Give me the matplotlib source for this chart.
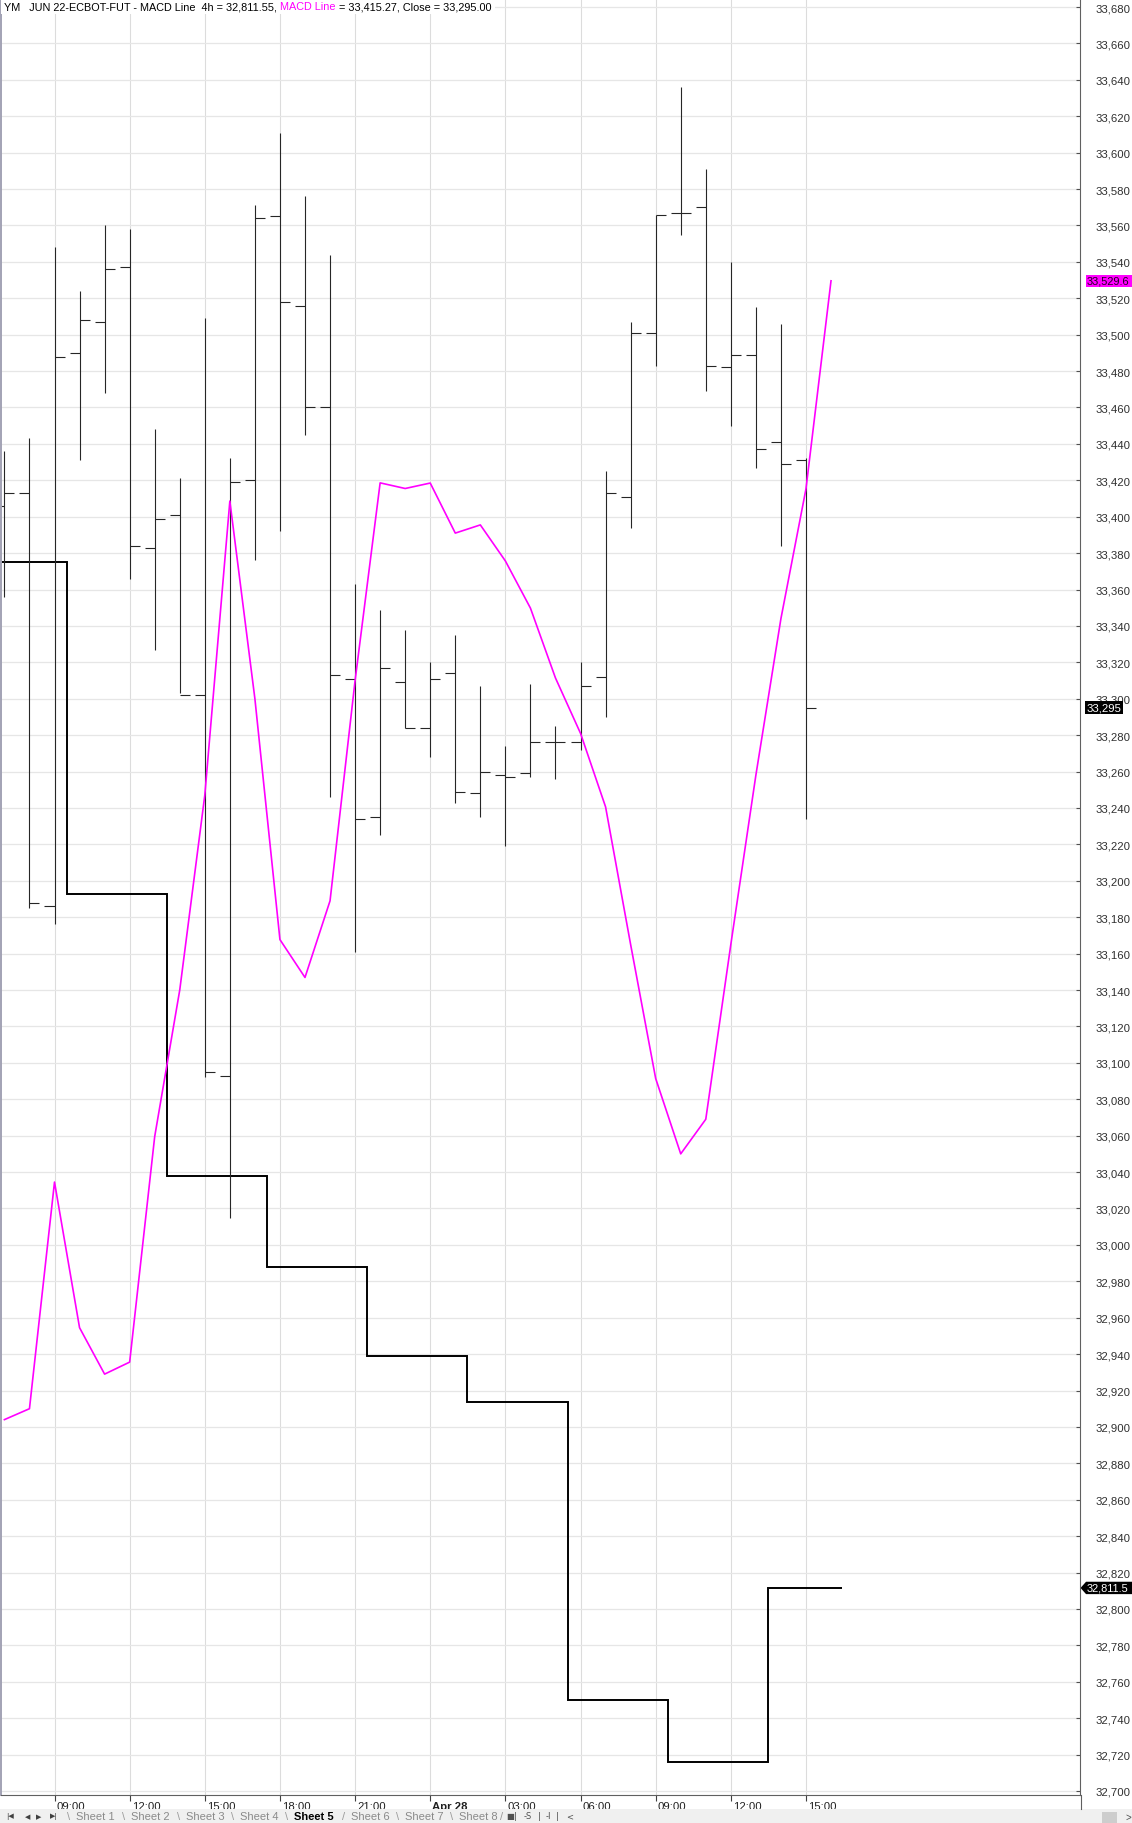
import matplotlib
matplotlib.use("Agg")
import matplotlib.pyplot as plt
import matplotlib.patches as mpatches
from matplotlib.transforms import ScaledTranslation
import numpy as np

plt.rcParams['font.family'] = ['Liberation Sans', 'DejaVu Sans']

# hourly OHLC bars, hour 0 = 09:00 on Apr 27
hours = np.arange(-2, 31)
opens = [33406, 33413, 33186, 33490, 33507, 33537, 33383, 33401, 33302, 33093,
         33420, 33565, 33516, 33460, 33311, 33235, 33309, 33284, 33314, 33248,
         33258, 33259, 33276, 33276, 33312, 33411, 33501, 33567, 33570, 33482,
         33489, 33441, 33431]
highs = [33436, 33443, 33548, 33524, 33560, 33558, 33448, 33421, 33509, 33432,
         33571, 33611, 33576, 33544, 33363, 33349, 33338, 33320, 33335, 33307,
         33274, 33308, 33285, 33320, 33425, 33507, 33566, 33636, 33591, 33540,
         33515, 33506, 33432]
lows = [33356, 33185, 33176, 33431, 33468, 33366, 33327, 33303, 33092, 33015,
        33376, 33392, 33445, 33246, 33161, 33225, 33284, 33268, 33243, 33235,
        33219, 33257, 33256, 33272, 33290, 33394, 33483, 33555, 33469, 33450,
        33427, 33384, 33234]
closes = [33413, 33188, 33488, 33508, 33536, 33384, 33399, 33302, 33095, 33419,
          33564, 33518, 33460, 33313, 33234, 33317, 33284, 33311, 33249, 33260,
          33257, 33276, 33276, 33307, 33413, 33501, 33566, 33567, 33483, 33489,
          33437, 33429, 33295.00]

# MACD line (one point per hour)
macd_hours = np.arange(-2, 32)
macd = [32904, 32910, 33034.5, 32954.5, 32929, 32935.6, 33059.5, 33140, 33247,
        33408.6, 33300, 33167.7, 33146.9, 33189, 33310, 33418.6, 33415.5,
        33418.5, 33391, 33395.5, 33375.7, 33349.8, 33311.4, 33281, 33240.6,
        33165, 33091.4, 33050, 33069, 33165, 33258, 33344, 33415.27, 33529.6]

# 4h series drawn as steps
step_edges = [-3.52, 0.48, 4.48, 8.48, 12.48, 16.48, 20.48, 24.48, 28.48, 31.45]
step_vals = [33375, 33193, 33038, 32988, 32939, 32913.5, 32750, 32716, 32811.55]

tick_hours = [0, 3, 6, 9, 12, 15, 18, 21, 24, 27, 30]
tick_labels = ["09:00", "12:00", "15:00", "18:00", "21:00", "Apr 28",
               "03:00", "06:00", "09:00", "12:00", "15:00"]
price_ticks = np.arange(32700, 33681, 20)

W, H = 1132, 1824
fig = plt.figure(figsize=(W / 100, H / 100), dpi=100)
fig.patch.set_facecolor("white")
ax = fig.add_axes([1 / W, 28 / H, 1079 / W, 1796 / H])

ax.set_xlim(-2.136, 40.94)
ax.set_ylim(32697.8, 33684.4)

# grid
ax.set_yticks(price_ticks)
ax.set_yticklabels([f"{v:,}" for v in price_ticks])
ax.set_xticks(tick_hours)
ax.set_xticklabels(tick_labels)
ax.grid(axis="y", color="#e6e6e6", lw=0.9)
ax.grid(axis="x", color="#dcdcdc", lw=0.8)
ax.set_axisbelow(True)

# OHLC bars
bar_c = "#262626"
ax.vlines(hours, lows, highs, color=bar_c, lw=0.8)
ax.hlines(opens, hours - 0.4, hours, color=bar_c, lw=0.8)
ax.hlines(closes, hours, hours + 0.4, color=bar_c, lw=0.8)

# 4h steps and MACD line
ax.stairs(step_vals, step_edges, baseline=None, color="black", lw=1.4)
ax.plot(macd_hours, macd, color="#ff00ff", lw=1.2)

# axes styling
ax.yaxis.tick_right()
ax.tick_params(axis="y", direction="in", length=3, width=0.8, color="#505050",
               pad=11, labelsize=8.2, labelcolor="#303030")
ax.tick_params(axis="x", direction="out", length=4, width=0.8, color="#404040",
               pad=0.5, labelsize=8.2, labelcolor="#202020")
for lbl in ax.get_xticklabels():
    lbl.set_horizontalalignment("left")
    lbl.set_transform(lbl.get_transform() + ScaledTranslation(2 / 100, 0, fig.dpi_scale_trans))
    if lbl.get_text() == "Apr 28":
        lbl.set_fontweight("bold")
ax.spines["top"].set_visible(False)
ax.spines["left"].set_color("#a2a2b4")
ax.spines["left"].set_linewidth(1.4)
ax.spines["right"].set_color("#606060")
ax.spines["right"].set_linewidth(0.8)
ax.spines["bottom"].set_color("#606060")
ax.spines["bottom"].set_linewidth(0.8)

# value markers on the price axis
ytr = ax.get_yaxis_transform()
hb = 3.4  # half height of the marker boxes, in price units
ax.add_patch(mpatches.Rectangle((1.0056, macd[-1] - hb), 0.05, 2 * hb, transform=ytr,
                                fc="#ff00ff", ec="none", clip_on=False))
ax.text(1.0062, macd[-1], f"{macd[-1]:,.1f}", transform=ytr, va="center", ha="left",
        fontsize=7.9, color="#200020", clip_on=False)
ax.text(1.0062, closes[-1], f"{closes[-1]:,.0f}", transform=ytr, va="center", ha="left",
        fontsize=8.2, color="white", clip_on=False,
        bbox=dict(boxstyle="square,pad=0.12", fc="black", ec="none"))
v = step_vals[-1]
arrow = mpatches.Polygon([(1.0005, v), (1.0056, v + hb), (1.06, v + hb),
                          (1.06, v - hb), (1.0056, v - hb)], closed=True,
                         transform=ytr, fc="black", ec="none", clip_on=False)
ax.add_patch(arrow)
ax.text(1.0062, v, f"{v:,.2f}"[:-1], transform=ytr, va="center", ha="left",
        fontsize=7.9, color="white", clip_on=False)

# header text, drawn piece by piece on one white strip
pieces = [(f"YM   JUN 22-ECBOT-FUT - MACD Line  4h = {step_vals[-1]:,.2f}, ", "black"),
          ("MACD Line", "#ff00ff"),
          (f" = {macd[-2]:,.2f}, Close = {closes[-1]:,.2f}", "black")]
renderer = fig.canvas.get_renderer()
x = 4 / W
texts = []
for s, c in pieces:
    t = fig.text(x, 1 - 7 / H, s, color=c, fontsize=7.8, va="center", ha="left", zorder=5)
    texts.append(t)
    bb = t.get_window_extent(renderer)
    x = bb.x1 / W
fig.patches.append(mpatches.Rectangle((0.5 / W, 1 - 15 / H), x + 3 / W, 15 / H,
                                      transform=fig.transFigure, fc="white", ec="none",
                                      zorder=4))

# sheet tab bar
def fx(px):
    return px / W

def fy(py):
    return 1 - py / H

fig.patches.append(mpatches.Rectangle((0, 0), 1, 14 / H, transform=fig.transFigure,
                                      fc="#f0f0f0", ec="none"))
fig.add_artist(plt.Line2D([fx(1080.5), fx(1080.5)], [fy(1796), fy(1810)],
                          color="#606060", lw=0.8))
for px, s in [(6, "|◀"), (25, "◀"), (36, "▶"), (50, "▶|")]:
    fig.text(fx(px), fy(1817), s, fontsize=5, color="#404040", va="center", ha="left",
             family="DejaVu Sans")
tabs = ["Sheet 1", "Sheet 2", "Sheet 3", "Sheet 4", "Sheet 5", "Sheet 6", "Sheet 7", "Sheet 8"]
tab_x = [76, 131, 186, 240, 294, 351, 405, 459]
for px, s in zip(tab_x, tabs):
    bold = s == "Sheet 5"
    fig.text(fx(px), fy(1817), s, fontsize=8, va="center", ha="left",
             color="black" if bold else "#8a8a8a", fontweight="bold" if bold else "normal")
    fig.text(fx(px - 9), fy(1817), "/" if s == "Sheet 6" else "\\", fontsize=8,
             va="center", ha="left", color="#9a9a9a")
fig.text(fx(500), fy(1817), "/", fontsize=8, va="center", ha="left", color="#9a9a9a")
for px, s in [(506, "■"), (514, "|"), (524, "-S"), (538, "|"), (546, "-I"), (556, "|"), (566, "<")]:
    fig.text(fx(px), fy(1817), s, fontsize=6, va="center", ha="left", color="#505050",
             family="DejaVu Sans")
fig.patches.append(mpatches.Rectangle((fx(1102), 0), 15 / W, 11 / H, transform=fig.transFigure,
                                      fc="#cdcdcd", ec="none"))
fig.text(fx(1125), fy(1818), ">", fontsize=7, va="center", ha="left", color="#505050")

fig.savefig("out.png", dpi=100, facecolor="white")
